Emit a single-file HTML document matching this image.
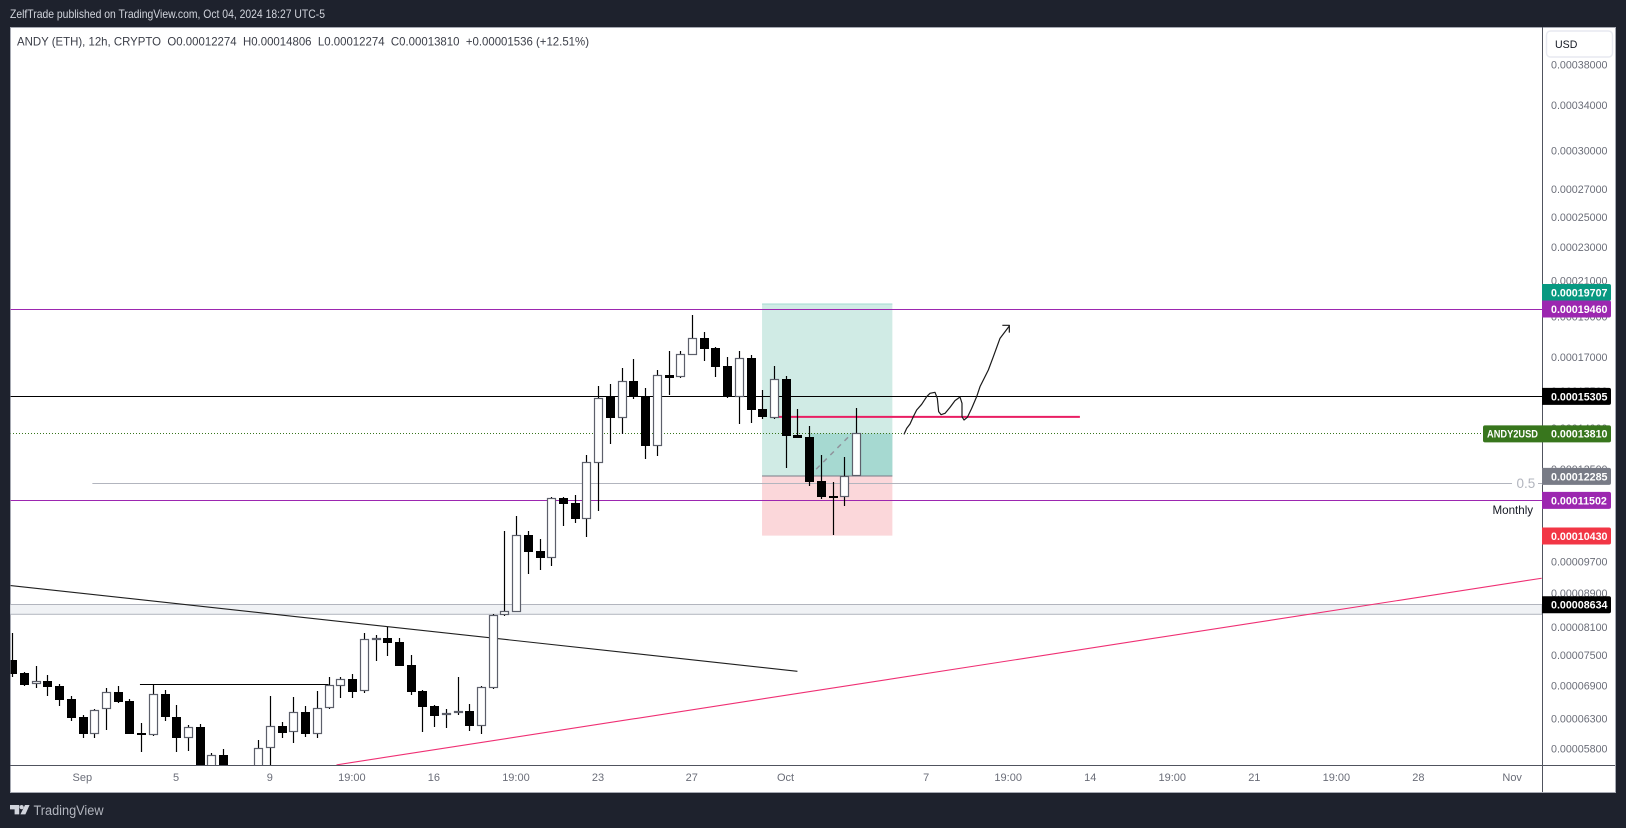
<!DOCTYPE html>
<html lang="en">
<head>
<meta charset="utf-8">
<title>ANDY (ETH) 12h chart</title>
<style>
html,body{margin:0;padding:0;background:#1e222d;width:1626px;height:828px;overflow:hidden}
svg{display:block}
text{font-family:"Liberation Sans",sans-serif}
</style>
</head>
<body>
<svg id="chart" xmlns="http://www.w3.org/2000/svg" width="1626" height="828" viewBox="0 0 1626 828">
  <defs>
    <clipPath id="pane-clip"><rect x="10.5" y="27.5" width="1531.5" height="737.5"/></clipPath>
  </defs>
  <rect x="0" y="0" width="1626" height="828" fill="#1e222d"/>
  <text x="10" y="18" font-size="11.8" fill="#d1d4dc" textLength="315" lengthAdjust="spacingAndGlyphs">ZelfTrade published on TradingView.com, Oct 04, 2024 18:27 UTC-5</text>
  <rect x="10.5" y="27.5" width="1605" height="765" fill="#ffffff" stroke="#a6a9b2" stroke-width="1"/>
  <g id="pane" clip-path="url(#pane-clip)">
    <g id="drawings"></g>
    <path transform="translate(880,300) scale(0.33333)" fill="none" stroke="#1a1a1a" stroke-width="3.6" stroke-linejoin="round" d="M72 403 L80 385 L90 372 L100 350 L110 330 L125 313 L140 290 L150 280 L165 277 L172 295 L176 335 L183 344 L195 340 L210 322 L225 302 L240 291 L246 310 L246 350 L252 360 L262 352 L275 325 L290 290 L300 260 L325 210 L340 170 L360 115 L388 78 M367 76 L388 76 L388 98"/>
    <g id="candles"></g>
  </g>
  <text x="1492.5" y="514" font-size="11.6" fill="#131722">Monthly</text>
  <text x="1516.5" y="488" font-size="13.5" fill="#b2b5be">0.5</text>
  <text x="17" y="45.5" font-size="11.6" fill="#3b3e48" textLength="572" lengthAdjust="spacingAndGlyphs">ANDY (ETH), 12h, CRYPTO&#160;&#160;O0.00012274&#160;&#160;H0.00014806&#160;&#160;L0.00012274&#160;&#160;C0.00013810&#160;&#160;+0.00001536 (+12.51%)</text>
  <line x1="1542.5" y1="27" x2="1542.5" y2="792" stroke="#50535e" stroke-width="1"/>
  <line x1="10" y1="765.5" x2="1615" y2="765.5" stroke="#50535e" stroke-width="1"/>
  <g id="price-axis"></g>
  <g id="time-axis"></g>
  <rect x="1546.5" y="31" width="66" height="26" rx="4" fill="#ffffff" stroke="#e7e9f0" stroke-width="1.4"/>
  <text x="1555" y="48" font-size="10.6" fill="#131722">USD</text>
  <g fill="#d1d4dc">
    <path d="M10 805h9.2v9.4h-4.6v-5h-4.6z"/>
    <circle cx="21.6" cy="807.1" r="2.1"/>
    <path d="M25 805h4.6l-4.2 9.4h-5z"/>
  </g>
  <text x="33.5" y="815" font-size="13.4" fill="#b2b5be" textLength="70" lengthAdjust="spacingAndGlyphs">TradingView</text>
</svg>
<script>
// Prices are in units of 0.00000001 USD; one entry per 12h bar.
const opens = [7411,7154,6946,6996,6902,6659,6338,6055,6475,6790,6622,6067,6038,6752,6338,5988,6167,5405,5711,5259,5330,5450,5817,6184,6078,6427,6055,6493,6908,7035,6803,7837,7874,7788,7312,6809,6534,6368,6403,6444,6189,6871,8381,8466,10451,10002,9817,11567,11410,10927,12745,15297,14422,15951,15297,13356,16220,16143,17152,17953,17470,16626,15280,16992,14775,14422,16040,13755,13678,12120,11632,11609,12274];
const highs = [7991,7173,7292,7114,6940,6709,6369,6480,6865,6902,6659,6235,6921,6827,6551,6201,6218,5742,5806,5526,5511,5949,6715,6251,6696,6534,6809,7074,7074,7134,7985,7940,8124,7874,7516,6818,6542,6480,7074,6569,6902,8411,10558,11010,10567,10334,11600,11600,11665,13019,15738,15823,16536,16942,15652,16446,17327,17327,19126,18255,17494,17039,17327,17136,15567,16626,16175,14775,14099,13019,12087,12947,14806];
const lows = [7080,6902,6871,6715,6534,6273,5988,5988,6117,6587,6050,5758,6021,6273,5758,5774,5188,5259,5330,5116,5188,5360,5450,5988,5901,5999,5988,6480,6677,6677,6778,7391,7495,7282,6734,6083,6167,6151,6374,6100,6050,6846,8365,8459,9389,9494,9598,10712,10800,10392,11164,13418,13804,15182,12874,12983,15353,16084,17136,16852,16129,15225,14176,14214,14370,14370,12564,13620,11957,11535,10451,11317,12274];
const closes = [7140,6927,6991,6889,6646,6326,6055,6457,6784,6605,6055,6038,6747,6338,5988,6162,5360,5711,5450,5450,5480,5817,6179,6067,6422,6050,6493,6916,7029,6790,7845,7868,7767,7292,6790,6516,6356,6403,6439,6184,6878,8381,8471,10442,9974,9809,11557,11379,10918,12759,15212,14410,15938,15297,13346,16206,16084,17169,17937,17422,16581,15267,16978,14734,14451,16026,13716,13640,12087,11600,11600,12279,13810];

const priceTicks = [38000,34000,30000,27000,25000,23000,21000,19000,17000,15500,14000,12500,9700,8900,8100,7500,6900,6300,5800];
const timeTickBars = [6,14,22,29,36,43,50,58,66,78,85,92,99,106,113,120,128];
const timeTickLabels = ["Sep","5","9","19:00","16","19:00","23","27","Oct","7","19:00","14","19:00","21","19:00","28","Nov"];

const purpleLevels = [19460,11502];
const blackLevel = 15305;
const lastPrice = 13810;
const supportZone = [8634,8405];
const fibLevel = 12045;
const fibBars = [6.84,127.97];
const positionBars = [63.98,75.1];
const positionEntryBar = 68;
const positionTarget = 19707;
const positionEntry = 12285;
const positionStop = 10430;
const entryLevel = 14451;
const entryLevelBars = [65.3,91.1];
const ceilingLevel = 6934;
const ceilingBars = [10.9,27];
const downTrendBars = [-0.2,67];
const downTrendPrices = [9095,7185];
const upTrendBars = [27.67,130.5];
const upTrendPrices = [5556,9277];
const forecastBars = [68.6,71.65];
const forecastPrices = [12520,13810];

const tagPrices = [19707,19460,15305,13810,12285,11502,10430,8634];
const tagFills = ["#089981","#9c27b0","#000000","#38761d","#787b86","#9c27b0","#f23645","#000000"];

const NS = "http://www.w3.org/2000/svg";
function xExact(i){ return 12.2 + 11.72 * i; }
function xOf(i){ return Math.round(xExact(i)); }
function yOf(p){ return 65 + 364 * Math.log(38000 / p); }
function fmt(p){ return (p / 1e8).toFixed(8); }
function make(tag, attrs, parent){
  const el = document.createElementNS(NS, tag);
  for (const k in attrs) el.setAttribute(k, attrs[k]);
  parent.appendChild(el);
  return el;
}
const drawings = document.getElementById("drawings");
const candles = document.getElementById("candles");
const priceAxis = document.getElementById("price-axis");
const timeAxis = document.getElementById("time-axis");
let el;

// Long position tool
const px1 = xExact(positionBars[0]), px2 = xExact(positionBars[1]), pxE = xExact(positionEntryBar);
el = make("rect", {x:px1, y:yOf(positionTarget), width:px2-px1, height:yOf(positionEntry)-yOf(positionTarget), fill:"#d0ebe5"}, drawings);


el = make("rect", {x:pxE, y:yOf(lastPrice), width:px2-pxE, height:yOf(positionEntry)-yOf(lastPrice), fill:"#a6d9d1"}, drawings);


el = make("rect", {x:px1, y:yOf(positionEntry), width:px2-px1, height:yOf(positionStop)-yOf(positionEntry), fill:"#fbd7da"}, drawings);


el = make("line", {x1:px1, x2:px2, y1:yOf(positionTarget), y2:yOf(positionTarget), stroke:"#a3dbd1", "stroke-width":1}, drawings);


el = make("line", {x1:px1, x2:px2, y1:yOf(positionEntry), y2:yOf(positionEntry), stroke:"#787b86", "stroke-width":1}, drawings);



// Support zone
el = make("rect", {x:10, y:Math.round(yOf(supportZone[0]))+.5, width:1532, height:yOf(supportZone[1])-yOf(supportZone[0]), fill:"#f0f2f5", stroke:"#b2b5be", "stroke-width":1}, drawings);



// Fib 0.5 line
el = make("line", {x1:xExact(fibBars[0]), x2:xExact(fibBars[1]), y1:Math.round(yOf(fibLevel))+.5, y2:Math.round(yOf(fibLevel))+.5, stroke:"#b2b5be", "stroke-width":1}, drawings);


el = make("line", {x1:1538, x2:1542, y1:Math.round(yOf(fibLevel))+.5, y2:Math.round(yOf(fibLevel))+.5, stroke:"#b2b5be", "stroke-width":1}, drawings);



// Horizontal levels
purpleLevels.forEach(function(p){
  const y = Math.round(yOf(p)) + .5;
  const line = make("line", {x1:10, x2:1542, y1:y, y2:y, stroke:"#9c27b0", "stroke-width":1}, drawings);
  
  
});
el = make("line", {x1:10, x2:1542, y1:Math.round(yOf(blackLevel))+.5, y2:Math.round(yOf(blackLevel))+.5, stroke:"#000000", "stroke-width":1}, drawings);


el = make("line", {x1:10, x2:1483, y1:Math.round(yOf(lastPrice))+.5, y2:Math.round(yOf(lastPrice))+.5, stroke:"#38761d", "stroke-width":1, "stroke-dasharray":"1 2"}, drawings);


el = make("line", {x1:xExact(entryLevelBars[0]), x2:xExact(entryLevelBars[1]), y1:yOf(entryLevel), y2:yOf(entryLevel), stroke:"#e91e63", "stroke-width":2}, drawings);


el = make("line", {x1:xExact(ceilingBars[0]), x2:xExact(ceilingBars[1]), y1:Math.round(yOf(ceilingLevel))+.5, y2:Math.round(yOf(ceilingLevel))+.5, stroke:"#000000", "stroke-width":1}, drawings);



// Trend lines
el = make("line", {x1:xExact(downTrendBars[0]), x2:xExact(downTrendBars[1]), y1:yOf(downTrendPrices[0]), y2:yOf(downTrendPrices[1]), stroke:"#1f1f1f", "stroke-width":1.1}, drawings);


el = make("line", {x1:xExact(upTrendBars[0]), x2:xExact(upTrendBars[1]), y1:yOf(upTrendPrices[0]), y2:yOf(upTrendPrices[1]), stroke:"#ef2f73", "stroke-width":1.1}, drawings);


el = make("line", {x1:xExact(forecastBars[0]), x2:xExact(forecastBars[1]), y1:yOf(forecastPrices[0]), y2:yOf(forecastPrices[1]), stroke:"#8f929b", "stroke-width":1.5, "stroke-dasharray":"5 5"}, drawings);



// Candles
opens.forEach(function(open, i){
  const close = closes[i], up = close >= open;
  const col = xOf(i);
  const yHigh = Math.round(yOf(highs[i])), yLow = Math.round(yOf(lows[i]));
  const wick = make("rect", {x:col-.1, y:yHigh, width:1.2, height:Math.max(1, yLow-yHigh), fill:"#000000"}, candles);
  
  
  const yTop = Math.round(yOf(Math.max(open, close))), yBot = Math.round(yOf(Math.min(open, close)));
  const h = Math.max(2, yBot - yTop);
  const body = up
    ? make("rect", {x:col-3.5, y:yTop+.5, width:8, height:h-1, fill:"#ffffff", stroke:"#5d606b", "stroke-width":1.2}, candles)
    : make("rect", {x:col-4, y:yTop, width:9, height:h, fill:"#000000", "shape-rendering":"crispEdges"}, candles);
  
  
});

// Price axis ticks
priceTicks.forEach(function(p){
  const t = make("text", {x:1551, y:yOf(p)+3.4, "font-size":"10.7", fill:"#6a6d78"}, priceAxis);
  t.textContent = fmt(p);
  
  
});

// Price tags, pushed upward when they would overlap the tag below
const tagCenters = tagPrices.map(function(p){ return yOf(p) + .4; });
for (let i = tagCenters.length - 2; i >= 0; i--) {
  if (tagCenters[i] + 16.5 > tagCenters[i + 1]) tagCenters[i] = tagCenters[i + 1] - 16.5;
}
tagPrices.forEach(function(p, i){
  const cy = tagCenters[i];
  const box = make("path", {d:"M1542 "+(cy-8.5)+"h67a2 2 0 0 1 2 2v13a2 2 0 0 1 -2 2h-67z", fill:tagFills[i]}, priceAxis);
  
  
  const t = make("text", {x:1551, y:cy+3.9, "font-size":"10.7", "font-weight":"700", fill:"#ffffff"}, priceAxis);
  t.textContent = fmt(p);
  
  
});
const lastY = yOf(lastPrice) + .4;
el = make("path", {d:"M1542 "+(lastY-8.5)+"h-57a2 2 0 0 0 -2 2v13a2 2 0 0 0 2 2h57z", fill:"#38761d"}, priceAxis);


el = make("text", {x:1487, y:lastY+3.9, "font-size":"11", "font-weight":"700", fill:"#ffffff", textLength:"51", lengthAdjust:"spacingAndGlyphs"}, priceAxis);
el.textContent = "ANDY2USD";



// Time axis
timeTickBars.forEach(function(b, i){
  const t = make("text", {x:xExact(b)-.2, y:781, "font-size":"11", fill:"#6a6d78", "text-anchor":"middle"}, timeAxis);
  t.textContent = timeTickLabels[i];
  
  
});
</script>
</body>
</html>
